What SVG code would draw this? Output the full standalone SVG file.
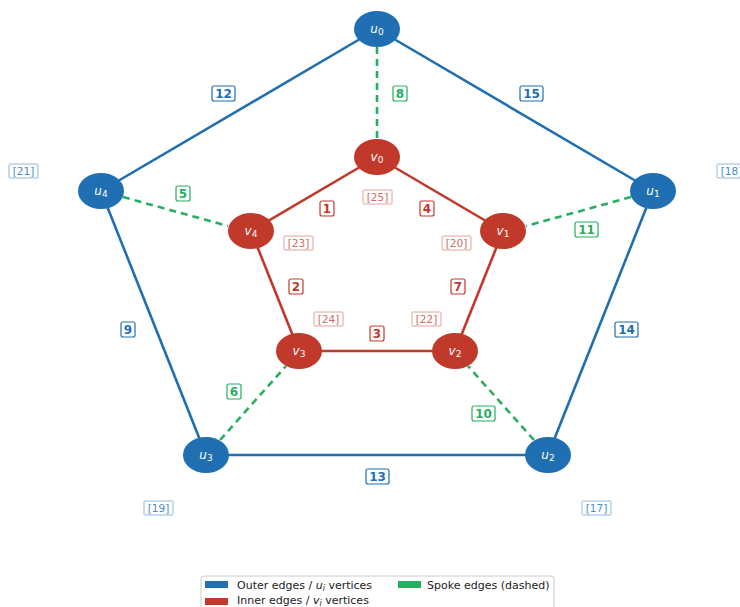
<svg xmlns="http://www.w3.org/2000/svg" width="740" height="607" viewBox="0 0 740 607">
<style>
text{font-family:"DejaVu Sans","Liberation Sans",sans-serif}
.ob{stroke:#1f6fb2;stroke-width:2.6;fill:none}
.ib{stroke:#c0392b;stroke-width:2.6;fill:none}
.sp{stroke:#27ae60;stroke-width:2.6;fill:none;stroke-dasharray:7 5}
.un{fill:#1f6fb2}
.vn{fill:#c0392b}
.nl{fill:#fff;font-size:12px;font-style:italic;text-anchor:middle}
.nl tspan.s{font-size:9px;font-style:normal}
.lb{fill:#fff;stroke-width:1.2}
.lt{font-size:12px;font-weight:bold;text-anchor:middle}
.bb{fill:#fff;stroke-width:1}
.bt{font-size:10.5px;text-anchor:middle}
.lg{font-size:11px;fill:#222}
</style>
<rect width="740" height="607" fill="#fff"/>
<g id="connectors">
<line class="ob" x1="377" y1="29" x2="653" y2="191"/>
<line class="ob" x1="653" y1="191" x2="548" y2="455"/>
<line class="ob" x1="548" y1="455" x2="206" y2="455"/>
<line class="ob" x1="206" y1="455" x2="101" y2="191"/>
<line class="ob" x1="101" y1="191" x2="377" y2="29"/>
<line class="ib" x1="377" y1="157" x2="503" y2="231"/>
<line class="ib" x1="503" y1="231" x2="455" y2="351"/>
<line class="ib" x1="455" y1="351" x2="299" y2="351"/>
<line class="ib" x1="299" y1="351" x2="251" y2="231"/>
<line class="ib" x1="251" y1="231" x2="377" y2="157"/>
<line class="sp" x1="377" y1="47" x2="377" y2="139"/>
<line class="sp" x1="631" y1="197" x2="526" y2="226"/>
<line class="sp" x1="534" y1="440" x2="468" y2="366"/>
<line class="sp" x1="220" y1="440" x2="286" y2="366"/>
<line class="sp" x1="123" y1="197" x2="228" y2="226"/>
</g>
<g id="edge-labels">
<rect class="lb" stroke="#1f6fb2" x="212" y="86" width="23" height="15" rx="2"/><text class="lt" fill="#1f6fb2" x="223.5" y="98">12</text>
<rect class="lb" stroke="#1f6fb2" x="520" y="86" width="23" height="15" rx="2"/><text class="lt" fill="#1f6fb2" x="531.5" y="98">15</text>
<rect class="lb" stroke="#1f6fb2" x="121" y="322" width="14" height="15" rx="2"/><text class="lt" fill="#1f6fb2" x="128" y="334">9</text>
<rect class="lb" stroke="#1f6fb2" x="615" y="322" width="23" height="15" rx="2"/><text class="lt" fill="#1f6fb2" x="626.5" y="334">14</text>
<rect class="lb" stroke="#1f6fb2" x="366" y="469" width="23" height="15" rx="2"/><text class="lt" fill="#1f6fb2" x="377.5" y="481">13</text>
<rect class="lb" stroke="#27ae60" x="393" y="86" width="14" height="15" rx="2"/><text class="lt" fill="#27ae60" x="400" y="98">8</text>
<rect class="lb" stroke="#27ae60" x="176" y="186" width="14" height="15" rx="2"/><text class="lt" fill="#27ae60" x="183" y="198">5</text>
<rect class="lb" stroke="#27ae60" x="575" y="222" width="23" height="15" rx="2"/><text class="lt" fill="#27ae60" x="586.5" y="234">11</text>
<rect class="lb" stroke="#27ae60" x="227" y="384" width="14" height="15" rx="2"/><text class="lt" fill="#27ae60" x="234" y="396">6</text>
<rect class="lb" stroke="#27ae60" x="472" y="406" width="23" height="15" rx="2"/><text class="lt" fill="#27ae60" x="483.5" y="418">10</text>
<rect class="lb" stroke="#c0392b" x="320" y="201" width="14" height="15" rx="2"/><text class="lt" fill="#c0392b" x="327" y="213">1</text>
<rect class="lb" stroke="#c0392b" x="420" y="201" width="14" height="15" rx="2"/><text class="lt" fill="#c0392b" x="427" y="213">4</text>
<rect class="lb" stroke="#c0392b" x="289" y="279" width="14" height="15" rx="2"/><text class="lt" fill="#c0392b" x="296" y="291">2</text>
<rect class="lb" stroke="#c0392b" x="451" y="279" width="14" height="15" rx="2"/><text class="lt" fill="#c0392b" x="458" y="291">7</text>
<rect class="lb" stroke="#c0392b" x="370" y="326" width="14" height="15" rx="2"/><text class="lt" fill="#c0392b" x="377" y="338">3</text>
</g>
<g id="weight-labels">
<rect class="bb" stroke="#8fb7d8" x="9" y="164" width="29" height="14" rx="1"/><text class="bt" fill="#4a8bc4" x="23.5" y="175">[21]</text>
<rect class="bb" stroke="#8fb7d8" x="717" y="164" width="29" height="14" rx="1"/><text class="bt" fill="#4a8bc4" x="731.5" y="175">[18]</text>
<rect class="bb" stroke="#8fb7d8" x="144" y="501" width="29" height="14" rx="1"/><text class="bt" fill="#4a8bc4" x="158.5" y="512">[19]</text>
<rect class="bb" stroke="#8fb7d8" x="582" y="501" width="29" height="14" rx="1"/><text class="bt" fill="#4a8bc4" x="596.5" y="512">[17]</text>
<rect class="bb" stroke="#e0a29b" x="363" y="190" width="29" height="14" rx="1"/><text class="bt" fill="#cf6b60" x="377.5" y="201">[25]</text>
<rect class="bb" stroke="#e0a29b" x="284" y="236" width="29" height="14" rx="1"/><text class="bt" fill="#cf6b60" x="298.5" y="247">[23]</text>
<rect class="bb" stroke="#e0a29b" x="442" y="236" width="29" height="14" rx="1"/><text class="bt" fill="#cf6b60" x="456.5" y="247">[20]</text>
<rect class="bb" stroke="#e0a29b" x="314" y="312" width="29" height="14" rx="1"/><text class="bt" fill="#cf6b60" x="328.5" y="323">[24]</text>
<rect class="bb" stroke="#e0a29b" x="412" y="312" width="29" height="14" rx="1"/><text class="bt" fill="#cf6b60" x="426.5" y="323">[22]</text>
</g>
<g id="u0"><ellipse class="un" cx="377" cy="29" rx="23" ry="18"/><text class="nl" x="377" y="33">u<tspan class="s" dy="2">0</tspan></text></g>
<g id="u1"><ellipse class="un" cx="653" cy="191" rx="23" ry="18"/><text class="nl" x="653" y="195">u<tspan class="s" dy="2">1</tspan></text></g>
<g id="u2"><ellipse class="un" cx="548" cy="455" rx="23" ry="18"/><text class="nl" x="548" y="459">u<tspan class="s" dy="2">2</tspan></text></g>
<g id="u3"><ellipse class="un" cx="206" cy="455" rx="23" ry="18"/><text class="nl" x="206" y="459">u<tspan class="s" dy="2">3</tspan></text></g>
<g id="u4"><ellipse class="un" cx="101" cy="191" rx="23" ry="18"/><text class="nl" x="101" y="195">u<tspan class="s" dy="2">4</tspan></text></g>
<g id="v0"><ellipse class="vn" cx="377" cy="157" rx="23" ry="18"/><text class="nl" x="377" y="161">v<tspan class="s" dy="2">0</tspan></text></g>
<g id="v1"><ellipse class="vn" cx="503" cy="231" rx="23" ry="18"/><text class="nl" x="503" y="235">v<tspan class="s" dy="2">1</tspan></text></g>
<g id="v2"><ellipse class="vn" cx="455" cy="351" rx="23" ry="18"/><text class="nl" x="455" y="355">v<tspan class="s" dy="2">2</tspan></text></g>
<g id="v3"><ellipse class="vn" cx="299" cy="351" rx="23" ry="18"/><text class="nl" x="299" y="355">v<tspan class="s" dy="2">3</tspan></text></g>
<g id="v4"><ellipse class="vn" cx="251" cy="231" rx="23" ry="18"/><text class="nl" x="251" y="235">v<tspan class="s" dy="2">4</tspan></text></g>
<g id="legend">
<rect x="201" y="576" width="353" height="40" rx="3" fill="#fff" stroke="#ccc" stroke-width="1"/>
<rect x="205" y="581" width="23" height="7" fill="#1f6fb2"/>
<text class="lg" x="237" y="588.5">Outer edges / <tspan font-style="italic">u</tspan><tspan font-style="italic" font-size="8px" dy="2">i</tspan><tspan dy="-2"> vertices</tspan></text>
<rect x="398" y="581" width="23" height="7" fill="#27ae60"/>
<text class="lg" x="427" y="588.5">Spoke edges (dashed)</text>
<rect x="205" y="598" width="23" height="7" fill="#c0392b"/>
<text class="lg" x="237" y="604">Inner edges / <tspan font-style="italic">v</tspan><tspan font-style="italic" font-size="8px" dy="1.5">i</tspan><tspan dy="-1.5"> vertices</tspan></text>
</g>
</svg>
